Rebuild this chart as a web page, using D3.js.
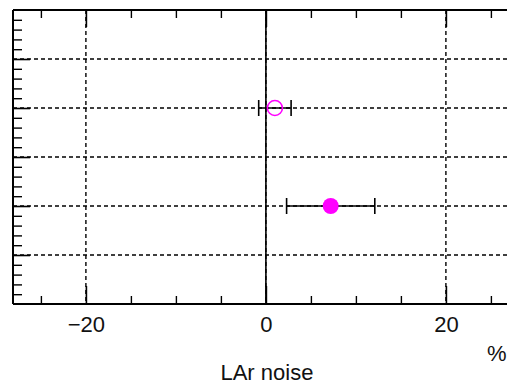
<!DOCTYPE html>
<html>
<head>
<meta charset="utf-8">
<script src="https://cdn.jsdelivr.net/npm/d3@7"></script>
<style>
  html, body { margin: 0; padding: 0; background: #fff; overflow: hidden; }
  svg { display: block; }
  text { font-family: "Liberation Sans", Arial, sans-serif; fill: #111; }
</style>
</head>
<body>
<svg id="chart" width="507" height="385"></svg>
<script>
// Measurements: central value and symmetric error, in %, one row each
const rows = [2, 4];                 // row position from the top of the frame
const values = [1.0, 7.2];
const errors = [1.8, 4.9];
const filled = [false, true];
const xTicks = [-20, 0, 20];
const xTickLabels = ["\u221220", "0", "20"];
const xTitle = "LAr noise";
const unitLabel = "%";

const svg = d3.select("#chart");
const frameLeft = 13, frameTop = 10, frameBottom = 304;
const fontSize = 22;

const x = d3.scaleLinear().domain([-28.1, 28.1]).range([frameLeft, frameLeft + 56.2 * 9]);
const y = d3.scaleLinear().domain([0, 6]).range([frameTop, frameBottom]);
const frameRight = x.range()[1];

const g = svg.append("g");

// dashed grid
const dash = "4,3";
g.selectAll(".hgrid").data(d3.range(1, 6)).join("line")
  .attr("x1", frameLeft).attr("x2", frameRight)
  .attr("y1", d => y(d)).attr("y2", d => y(d))
  .attr("stroke", "#000").attr("stroke-width", 1.4).attr("stroke-dasharray", dash);
g.selectAll(".vgrid").data(xTicks).join("line")
  .attr("x1", d => x(d)).attr("x2", d => x(d))
  .attr("y1", frameTop).attr("y2", frameBottom)
  .attr("stroke", "#000").attr("stroke-width", 1.4).attr("stroke-dasharray", dash);

// solid reference line at zero
g.append("line")
  .attr("x1", x(0)).attr("x2", x(0)).attr("y1", frameTop).attr("y2", frameBottom)
  .attr("stroke", "#000").attr("stroke-width", 1.6);

// bottom axis with major and minor ticks
const xMinor = d3.range(-25, 30, 5).filter(v => !xTicks.includes(v));
const xAxis = d3.axisBottom(x).tickValues(xTicks).tickFormat((d, i) => xTickLabels[i])
  .tickSize(-18);
const ax = g.append("g").attr("transform", `translate(0,${frameBottom})`).call(xAxis);
ax.select(".domain").remove();
ax.selectAll(".tick line").attr("stroke", "#000").attr("stroke-width", 1.6);
ax.selectAll(".tick text").attr("font-size", fontSize).attr("dy", 0).attr("y", 28)
  .attr("font-family", "Liberation Sans, Arial, sans-serif").attr("fill", "#111");
const axm = g.append("g").attr("transform", `translate(0,${frameBottom})`)
  .call(d3.axisBottom(x).tickValues(xMinor).tickFormat("").tickSize(-8));
axm.select(".domain").remove();
axm.selectAll(".tick line").attr("stroke", "#000").attr("stroke-width", 1.4);

// top axis ticks
const at = g.append("g").attr("transform", `translate(0,${frameTop})`)
  .call(d3.axisTop(x).tickValues(xTicks).tickFormat("").tickSize(-17));
at.select(".domain").remove();
at.selectAll(".tick line").attr("stroke", "#000").attr("stroke-width", 1.6);
const atm = g.append("g").attr("transform", `translate(0,${frameTop})`)
  .call(d3.axisTop(x).tickValues(xMinor).tickFormat("").tickSize(-8));
atm.select(".domain").remove();
atm.selectAll(".tick line").attr("stroke", "#000").attr("stroke-width", 1.4);

// left axis ticks
const yMajor = d3.range(1, 6);
const yMinor = d3.range(1, 30).map(v => v / 5).filter(v => Math.abs(v - Math.round(v)) > 1e-6);
const ayMaj = g.append("g").attr("transform", `translate(${frameLeft},0)`)
  .call(d3.axisLeft(y).tickValues(yMajor).tickFormat("").tickSize(-17));
ayMaj.select(".domain").remove();
ayMaj.selectAll(".tick line").attr("stroke", "#000").attr("stroke-width", 1.6);
const ayMin = g.append("g").attr("transform", `translate(${frameLeft},0)`)
  .call(d3.axisLeft(y).tickValues(yMinor).tickFormat("").tickSize(-9));
ayMin.select(".domain").remove();
ayMin.selectAll(".tick line").attr("stroke", "#000").attr("stroke-width", 1.4);

// frame
g.append("line").attr("x1", frameLeft).attr("x2", frameRight).attr("y1", frameTop).attr("y2", frameTop)
  .attr("stroke", "#000").attr("stroke-width", 2);
g.append("line").attr("x1", frameLeft).attr("x2", frameRight).attr("y1", frameBottom).attr("y2", frameBottom)
  .attr("stroke", "#000").attr("stroke-width", 2);
g.append("line").attr("x1", frameLeft).attr("x2", frameLeft).attr("y1", frameTop).attr("y2", frameBottom)
  .attr("stroke", "#000").attr("stroke-width", 2);

// error bars and markers
const pts = rows.map((r, i) => ({ r, v: values[i], e: errors[i], f: filled[i] }));
const eb = g.selectAll(".eb").data(pts).join("g");
eb.append("line")
  .attr("x1", d => x(d.v - d.e)).attr("x2", d => x(d.v + d.e))
  .attr("y1", d => y(d.r)).attr("y2", d => y(d.r))
  .attr("stroke", "#000").attr("stroke-width", 1.6);
eb.append("line")
  .attr("x1", d => x(d.v - d.e)).attr("x2", d => x(d.v - d.e))
  .attr("y1", d => y(d.r) - 8).attr("y2", d => y(d.r) + 8)
  .attr("stroke", "#000").attr("stroke-width", 1.6);
eb.append("line")
  .attr("x1", d => x(d.v + d.e)).attr("x2", d => x(d.v + d.e))
  .attr("y1", d => y(d.r) - 8).attr("y2", d => y(d.r) + 8)
  .attr("stroke", "#000").attr("stroke-width", 1.6);
eb.append("circle")
  .attr("cx", d => x(d.v)).attr("cy", d => y(d.r))
  .attr("r", d => d.f ? 8 : 7.5)
  .attr("fill", d => d.f ? "#ff00ff" : "none")
  .attr("stroke", "#ff00ff").attr("stroke-width", d => d.f ? 0 : 1.6);

// axis titles
svg.append("text").attr("x", x(0) + 1).attr("y", 380)
  .attr("text-anchor", "middle").attr("font-size", fontSize).text(xTitle);
svg.append("text").attr("x", 487).attr("y", 361)
  .attr("font-size", fontSize).text(unitLabel);
</script>
</body>
</html>
